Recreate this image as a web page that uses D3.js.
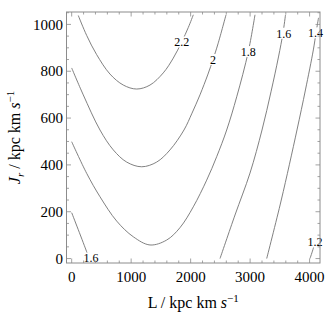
<!DOCTYPE html>
<html>
<head>
<meta charset="utf-8">
<script src="https://cdn.jsdelivr.net/npm/d3@7"></script>
<style>
  body { margin: 0; background: #fff; }
  svg text { font-family: "Liberation Serif", "Times New Roman", serif; }
</style>
</head>
<body>
<div id="chart"></div>
<script>
// contour levels, each line as [L, Jr] pairs
var levels = ["2.2", "2", "1.8", "1.6", "1.6", "1.4", "1.2"];

var c22 = [[111, 1038], [252, 953], [420, 871], [644, 788], [868, 741], [1093, 724], [1317, 741],
    [1540, 793], [1708, 856], [1850, 925], [1961, 987], [2045, 1041]];
var c20 = [[0, 814], [195, 699], [476, 549], [700, 464], [925, 412], [1177, 392], [1429, 412],
    [1653, 464], [1888, 549], [2023, 621], [2157, 699], [2292, 788], [2376, 850], [2460, 917], [2595, 1041]];
var c18 = [[0, 499], [252, 364], [476, 264], [757, 160], [1036, 93], [1317, 58], [1597, 79],
    [1821, 132], [2045, 221], [2270, 335], [2438, 435], [2606, 549], [2775, 691], [2970, 884],
    [3082, 1041]];
var c16a = [[0, 196], [252, 29], [291, 0]];
var c16b = [[2494, 0], [2746, 186], [2998, 365], [3200, 549], [3351, 712], [3477, 861], [3553, 964], [3595, 1041]];
var c14 = [[3279, 0], [3524, 250], [3788, 549], [3930, 720], [4063, 891], [4108, 964], [4150, 1028]];
var c12 = [[4007, 0], [4063, 44], [4091, 71]];
var contours = [c22, c20, c18, c16a, c16b, c14, c12];

// where each contour label sits
var labelPos = [[1850, 925], [2376, 850], [2970, 884], [325, 2], [3565, 962], [4100, 964], [4091, 71]];

var xTicks = [0, 1000, 2000, 3000, 4000];
var yTicks = [0, 200, 400, 600, 800, 1000];

var width = 332,
    height = 321;
var margin = {left: 66.5, right: 12, top: 12, bottom: 58};

var svg = d3.select("#chart")
    .append("svg")
    .attr("width", width)
    .attr("height", height)

var x = d3.scaleLinear().domain([-87, 4175]).range([margin.left, width - margin.right])
var y = d3.scaleLinear().domain([-19, 1053]).range([height - margin.bottom, margin.top])

var frameColor = "#8c8c8c"

// contour lines
var line = d3.line()
    .x(function (d) { return x(d[0]) })
    .y(function (d) { return y(d[1]) })
    .curve(d3.curveCatmullRom)

svg.append("g").selectAll("path")
    .data(contours)
    .enter().append("path")
    .attr("d", line)
    .attr("fill", "none")
    .attr("stroke", "#737373")
    .attr("stroke-width", 0.9)

// labels with white background, breaking the line
var labels = svg.append("g").selectAll("g")
    .data(levels)
    .enter().append("g")
    .attr("transform", function (d, i) {
        return "translate(" + x(labelPos[i][0]) + "," + y(labelPos[i][1]) + ")"
    })

labels.append("rect")
    .attr("x", function (d) { return -d.length * 3.2 })
    .attr("y", -5.5)
    .attr("width", function (d) { return d.length * 6.4 })
    .attr("height", 11)
    .attr("fill", "#fff")

labels.append("text")
    .attr("text-anchor", "middle")
    .attr("dy", "0.35em")
    .style("font-size", "12px")
    .text(function (d) { return d })

// frame with inward ticks on all four sides
var x0 = x.range()[0], x1 = x.range()[1], y0 = y.range()[0], y1 = y.range()[1];

svg.append("rect")
    .attr("x", x0)
    .attr("y", y1)
    .attr("width", x1 - x0)
    .attr("height", y0 - y1)
    .attr("fill", "none")
    .attr("stroke", frameColor)
    .attr("stroke-width", 1)

var xMinor = d3.range(0, 4200, 200),
    yMinor = d3.range(0, 1051, 50);

var ticks = svg.append("g");

function tickLines(vals, isX, len) {
    vals.forEach(function (v) {
        if (isX) {
            ticks.append("line").attr("x1", x(v)).attr("x2", x(v)).attr("y1", y0).attr("y2", y0 - len)
            ticks.append("line").attr("x1", x(v)).attr("x2", x(v)).attr("y1", y1).attr("y2", y1 + len)
        } else {
            ticks.append("line").attr("y1", y(v)).attr("y2", y(v)).attr("x1", x0).attr("x2", x0 + len)
            ticks.append("line").attr("y1", y(v)).attr("y2", y(v)).attr("x1", x1).attr("x2", x1 - len)
        }
    })
}
tickLines(xMinor.filter(function (v) { return v % 1000 }), true, 2.5)
tickLines(xTicks, true, 4.5)
tickLines(yMinor.filter(function (v) { return v % 200 }), false, 2.5)
tickLines(yTicks, false, 4.5)
ticks.selectAll("line").attr("stroke", frameColor).attr("stroke-width", 0.8)

// tick labels
svg.append("g").selectAll("text")
    .data(xTicks)
    .enter().append("text")
    .attr("x", function (d) { return x(d) })
    .attr("y", y0 + 19)
    .attr("text-anchor", "middle")
    .style("font-size", "15px")
    .text(function (d) { return d })

svg.append("g").selectAll("text")
    .data(yTicks)
    .enter().append("text")
    .attr("x", x0 - 3.5)
    .attr("y", function (d) { return y(d) })
    .attr("dy", "0.35em")
    .attr("text-anchor", "end")
    .style("font-size", "15px")
    .text(function (d) { return d })

// axis titles
var xt = svg.append("text")
    .attr("x", (x0 + x1) / 2)
    .attr("y", 308)
    .attr("text-anchor", "middle")
    .style("font-size", "16px")
xt.append("tspan").text("L / kpc km ")
xt.append("tspan").style("font-style", "italic").text("s")
xt.append("tspan").attr("dy", -6).style("font-size", "11px").text("\u22121")

var yt = svg.append("text")
    .attr("transform", "translate(20," + ((y0 + y1) / 2) + ") rotate(-90)")
    .attr("text-anchor", "middle")
    .style("font-size", "16px")
yt.append("tspan").style("font-style", "italic").text("J")
yt.append("tspan").attr("dy", 4).style("font-style", "italic").style("font-size", "11px").text("r")
yt.append("tspan").attr("dy", -4).text(" / kpc km ")
yt.append("tspan").style("font-style", "italic").text("s")
yt.append("tspan").attr("dy", -6).style("font-size", "11px").text("\u22121")
</script>
</body>
</html>
